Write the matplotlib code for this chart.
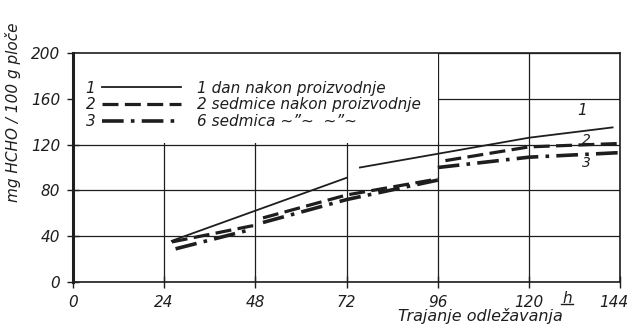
import numpy as np
import matplotlib.pyplot as plt
import matplotlib.transforms as mtransforms
from matplotlib.lines import Line2D
from matplotlib.patches import Rectangle

# hours of conditioning and mg HCHO per 100 g of board, one list per run
x1 = [26, 72, np.nan, 75.5, 120, 142]
y1 = [36, 91, np.nan, 100, 126, 135]

x2 = [26, 47, 48.5, np.nan, 50, 72, 96, np.nan, 98, 120, 144]
y2 = [35, 49, 49, np.nan, 56, 76, 90, np.nan, 106, 118, 121]

x3 = [27, 47, np.nan, 50, 72, 96, np.nan, 96, 120, 144]
y3 = [29, 46, np.nan, 52, 72, 89, np.nan, 100, 109, 113]

xticks = [0, 24, 48, 72, 96, 120, 144]
yticks = [0, 40, 80, 120, 160, 200]
names = ["1 dan nakon proizvodnje",
         "2 sedmice nakon proizvodnje",
         "6 sedmica ~\u201d~  ~\u201d~"]

ink = "#1e1e1e"
plt.rcParams.update({"font.family": "DejaVu Sans", "font.style": "italic",
                     "font.size": 11})

fig = plt.figure(figsize=(6.29, 3.33), dpi=100)
ax = fig.add_axes([0.116, 0.153, 0.870, 0.688])

ax.set_axisbelow(True)
ax.grid(True, color=ink, lw=0.9)
# legend area is left blank, grid only shows to the right of it
ax.add_patch(Rectangle((0, 121), 96, 79, facecolor="white",
                       edgecolor="none", zorder=1))

l1, = ax.plot(x1, y1, color=ink, lw=1.3, zorder=3)
l2, = ax.plot(x2, y2, color=ink, lw=2.3, ls=(0, (5, 2)), zorder=3)
l3, = ax.plot(x3, y3, color=ink, lw=2.6, ls=(0, (6, 2, 1, 2)), zorder=3)

ax.text(134, 150, "1", ha="center", va="center", color=ink)
ax.text(135, 124, "2", ha="center", va="center", color=ink, fontsize=10)
ax.text(135, 104, "3", ha="center", va="center", color=ink, fontsize=10)

ax.set_xlim(0, 144)
ax.set_ylim(0, 200)
ax.set_xticks(xticks)
ax.set_yticks(yticks)
ax.tick_params(direction="inout", length=8, width=1.0, color=ink,
               labelcolor=ink, labelsize=11, pad=5)
for s in ax.spines.values():
    s.set_color(ink)
    s.set_linewidth(1.2)
ax.spines["left"].set_linewidth(2.2)

# keep the last hour label inside the figure
last = ax.get_xticklabels()[-1]
last.set_horizontalalignment("right")
last.set_transform(last.get_transform() +
                   mtransforms.ScaledTranslation(0.08, 0, fig.dpi_scale_trans))

ax.text(130, -8, "h", ha="center", va="top", color=ink, fontsize=11)
ax.plot([128.3, 131.7], [-19, -19], color=ink, lw=1, clip_on=False)

ax.set_xlabel("Trajanje odležavanja", color=ink, fontsize=11.5)
ax.xaxis.set_label_coords(0.745, -0.115)
ax.set_ylabel("mg HCHO / 100 g ploče", color=ink, fontsize=11)
ax.yaxis.set_label_coords(-0.095, 0.74)

# numbered line keys, then the descriptions next to them
leg_a = ax.legend([l1, l2, l3], ["1", "2", "3"], markerfirst=False,
                  loc="upper left", bbox_to_anchor=(0.012, 0.905),
                  frameon=False, handlelength=5.2, handletextpad=0.4,
                  labelspacing=0.1, borderaxespad=0, fontsize=11)
for t in leg_a.get_texts():
    t.set_color(ink)
ax.add_artist(leg_a)
blank = [Line2D([], [], lw=0) for _ in names]
leg_b = ax.legend(blank, names, loc="upper left",
                  bbox_to_anchor=(0.215, 0.905), frameon=False,
                  handlelength=0, handletextpad=0, labelspacing=0.1,
                  borderaxespad=0, fontsize=11)
for t in leg_b.get_texts():
    t.set_color(ink)

fig.savefig("out.png", dpi=100)
